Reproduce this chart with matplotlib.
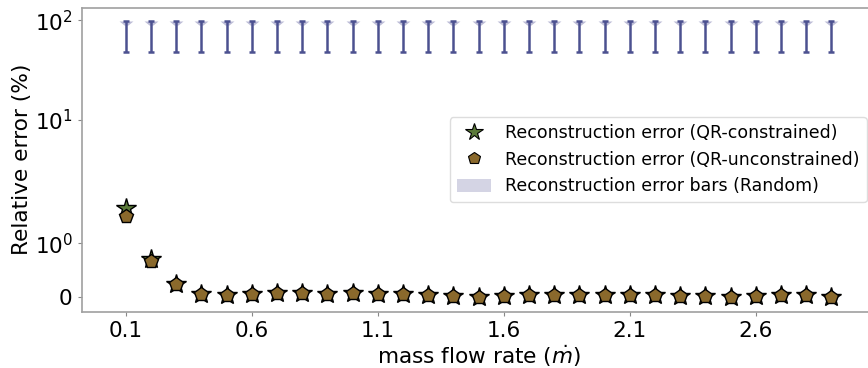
import numpy as np
import matplotlib
matplotlib.use("Agg")
import matplotlib.pyplot as plt
from matplotlib.patches import Patch
from matplotlib.lines import Line2D

# ---------------- data ----------------
flow_rate = [0.1, 0.2, 0.3, 0.4, 0.5, 0.6, 0.7, 0.8, 0.9, 1.0,
             1.1, 1.2, 1.3, 1.4, 1.5, 1.6, 1.7, 1.8, 1.9, 2.0,
             2.1, 2.2, 2.3, 2.4, 2.5, 2.6, 2.7, 2.8, 2.9]
err_qr_constrained = [1.92, 0.71, 0.25, 0.06, 0.04, 0.055, 0.075, 0.08, 0.07, 0.075,
                      0.065, 0.055, 0.04, 0.025, 0.01, 0.025, 0.04, 0.045, 0.045, 0.045,
                      0.045, 0.035, 0.03, 0.015, 0.01, 0.025, 0.04, 0.04, 0.005]
err_qr_unconstrained = [1.67, 0.67, 0.25, 0.06, 0.04, 0.055, 0.075, 0.08, 0.07, 0.075,
                        0.065, 0.055, 0.04, 0.025, 0.01, 0.025, 0.04, 0.045, 0.045, 0.045,
                        0.045, 0.035, 0.03, 0.015, 0.01, 0.025, 0.04, 0.04, 0.005]
random_err_low = [48, 47.5, 48.5, 48.5, 48, 48, 48.5, 48, 48.5, 48, 48.5, 48,
                  48.5, 48, 48.5, 48, 48, 48.5, 48, 48.5, 48, 48, 48.5, 48,
                  48.5, 48, 48, 48.5, 48]
random_err_high = [99] * 29
xticks = [0.1, 0.6, 1.1, 1.6, 2.1, 2.6]
yticks = [0, 1, 10, 100]
ytick_labels = ['0', r'$\mathdefault{10^{0}}$', r'$\mathdefault{10^{1}}$', r'$\mathdefault{10^{2}}$']

# ---------------- custom y scale (piecewise, matches reference spacing) ----------------
S_ANCH = np.array([-6.0, 0.0, 1.0, 2.0, 3.0, 7.0])
U_ANCH = np.array([-324.0, 0.0, 54.0, 177.6, 277.0, 277.0 + 4 * 99.4])

def _to_s(y):
    y = np.asarray(y, dtype=float)
    a = np.abs(y)
    with np.errstate(divide='ignore', invalid='ignore'):
        big = np.sign(y) * (1.0 + np.log10(np.maximum(a, 1.0)))
    return np.where(a <= 1.0, y, big)

def _from_s(s):
    s = np.asarray(s, dtype=float)
    a = np.abs(s)
    with np.errstate(over='ignore'):
        big = np.sign(s) * 10.0 ** (np.maximum(a, 1.0) - 1.0)
    return np.where(a <= 1.0, s, big)

def fwd(y):
    return np.interp(_to_s(y), S_ANCH, U_ANCH)

def inv(u):
    return _from_s(np.interp(np.asarray(u, dtype=float), U_ANCH, S_ANCH))

# ---------------- figure ----------------
fig = plt.figure(figsize=(8.68, 3.68), dpi=100)
ax = fig.add_axes([81.7 / 868, 1 - 311.7 / 368, (875.4 - 81.7) / 868, (311.7 - 7.7) / 368])
ax.set_yscale('function', functions=(fwd, inv))

x = np.array(flow_rate)
lo = np.array(random_err_low)
hi = np.array(random_err_high)
mid = (lo + hi) / 2

lav = '#bdbdd7'
navy = '#4c5190'
green = '#5b7a3a'
brown = '#8a692c'

# light wedge at top of random error bars
wedge = [(-1, 0), (1, 0), (0.25, -0.6), (-0.25, -0.6)]
ax.plot(x, hi, linestyle='none', marker=wedge, markersize=10, color=lav,
        markeredgewidth=0, zorder=1)
ax.errorbar(x, mid, yerr=[mid - lo, hi - mid], fmt='none', ecolor=navy,
            elinewidth=1.8, capsize=2.5, capthick=1.8, zorder=2)

ax.plot(x, err_qr_constrained, linestyle='none', marker='*', markersize=15,
        markerfacecolor=green, markeredgecolor='black', markeredgewidth=1.0, zorder=3)
ax.plot(x, err_qr_unconstrained, linestyle='none', marker='p', markersize=10,
        markerfacecolor=brown, markeredgecolor='black', markeredgewidth=1.0, zorder=4)

ax.set_xlim(-0.075, 3.075)
ax.set_ylim(-0.267, 134)
ax.set_xticks(xticks)
ax.set_xticklabels([f'{t:.1f}' for t in xticks])
ax.set_yticks(yticks)
ax.set_yticklabels(ytick_labels)
ax.minorticks_off()

ax.tick_params(axis='both', labelsize=15.5, colors='#888888', labelcolor='black',
               length=3, width=0.8)
for sp in ax.spines.values():
    sp.set_color('#a0a0a0')
    sp.set_linewidth(1.2)

ax.set_xlabel(r'mass flow rate ($\dot{m}$)', fontsize=15.6, labelpad=2)
ax.set_ylabel('Relative error (%)', fontsize=15.6, labelpad=2)

handles = [
    Line2D([], [], linestyle='none', marker='*', markersize=13,
           markerfacecolor=green, markeredgecolor='black', markeredgewidth=0.8),
    Line2D([], [], linestyle='none', marker='p', markersize=9,
           markerfacecolor=brown, markeredgecolor='black', markeredgewidth=0.8),
    Patch(facecolor='#d4d4e4', edgecolor='none'),
]
labels = ['Reconstruction error (QR-constrained)',
          'Reconstruction error (QR-unconstrained)',
          'Reconstruction error bars (Random)']
ax.legend(handles, labels, loc='center right', fontsize=12.5, framealpha=1,
          edgecolor='#dddddd', handleheight=0.8)

fig.savefig('out.png', dpi=100)
